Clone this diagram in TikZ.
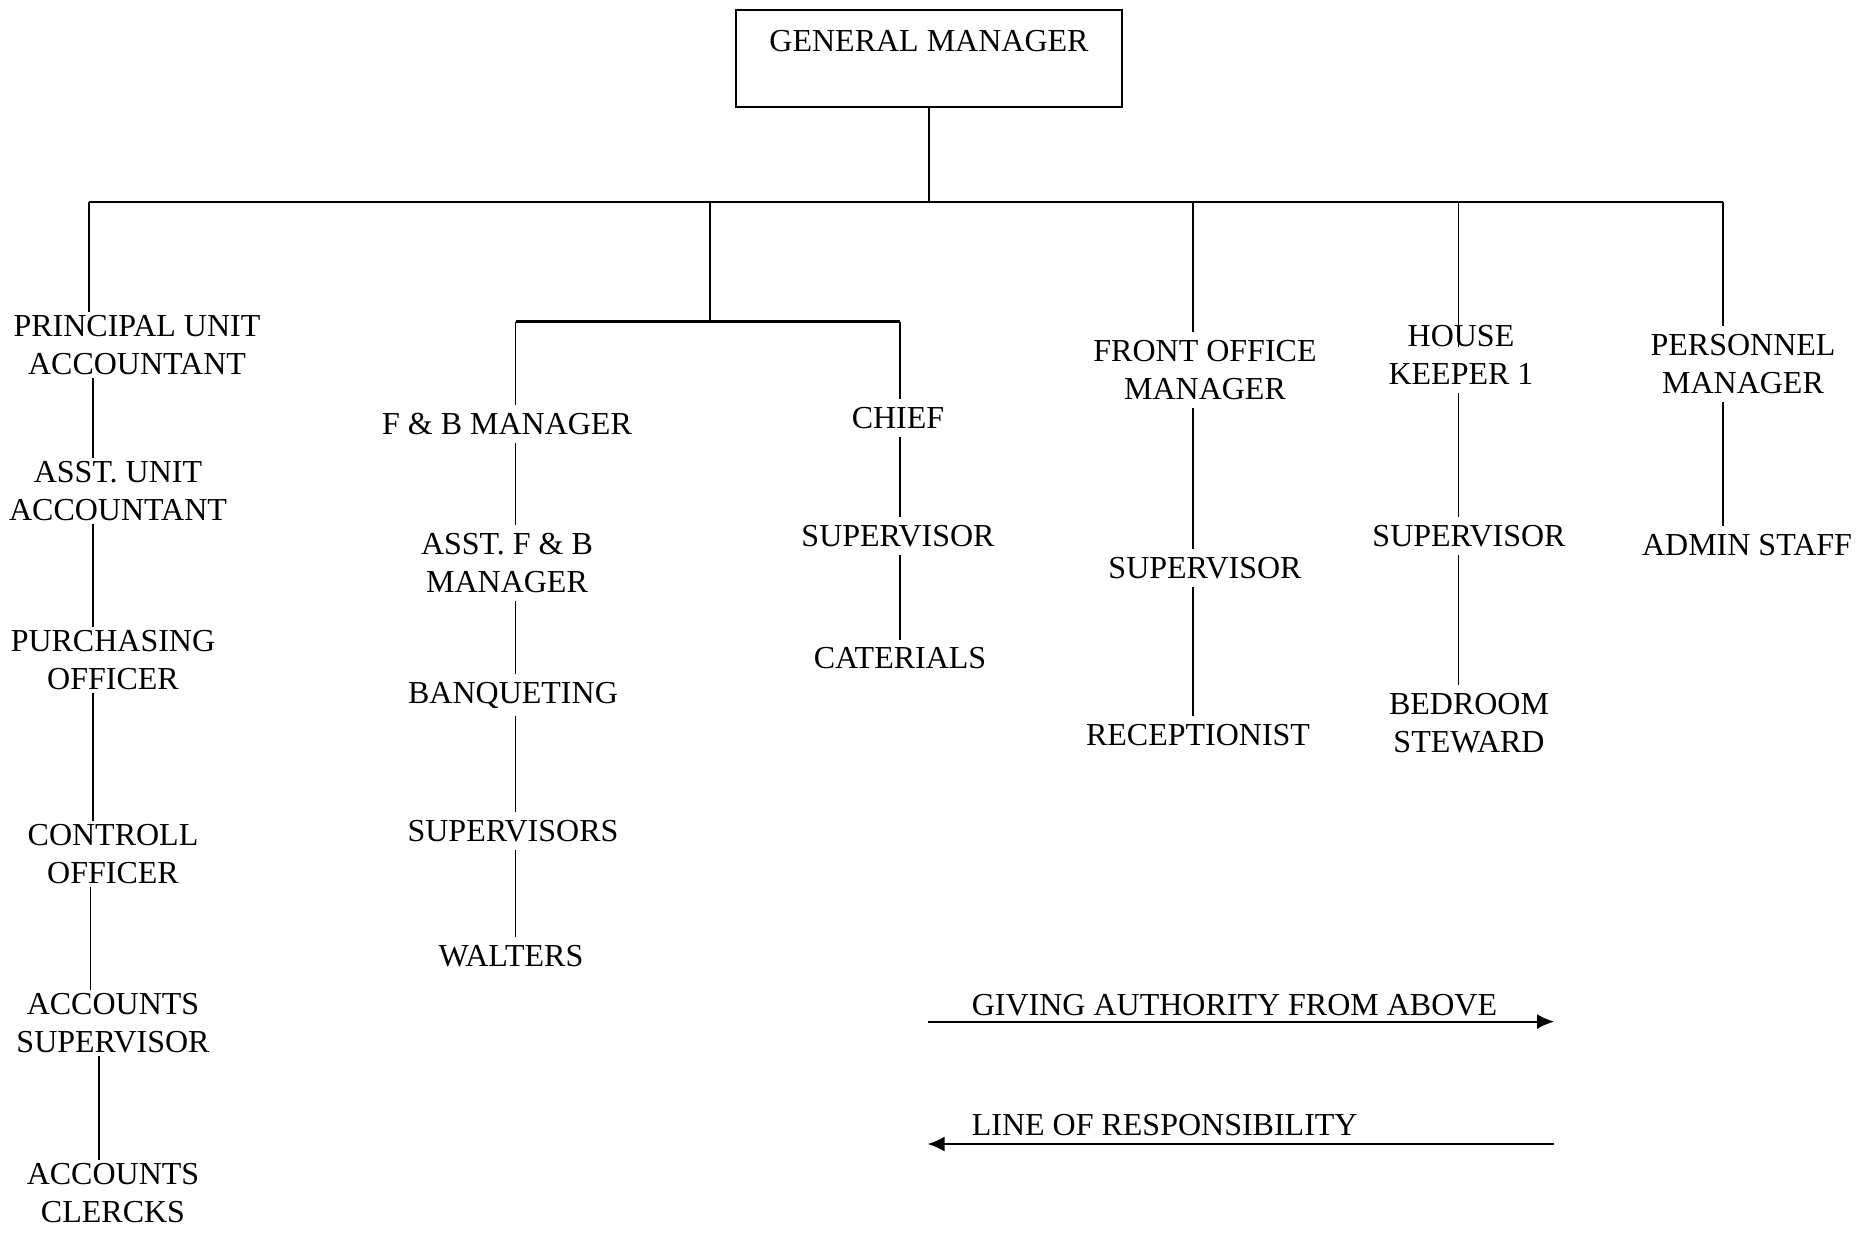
\documentclass[tikz,border=0pt]{standalone}
\usepackage{fontspec}
\setmainfont{Liberation Serif}
\usetikzlibrary{arrows.meta}
\begin{document}
\begin{tikzpicture}[x=1pt,y=-1pt,
  role/.style={font=\fontsize{32}{38}\selectfont, align=center, inner xsep=2pt, inner ysep=8pt},
  tight/.style={inner ysep=3pt},
  link/.style={line width=1.6pt},
  bus/.style={line width=2.5pt},
  legendarrow/.style={line width=1.8pt, -{Latex[length=17pt,width=15pt]}}
]
\useasboundingbox (0,0) rectangle (1867,1236);

% top box
\node (gm) [draw, line width=2pt, anchor=north, minimum width=386pt,
  inner ysep=10pt, text height=31.5pt, text depth=45pt,
  font=\fontsize{32}{38}\selectfont] at (929,9.5) {GENERAL MANAGER};

% accounts column
\node (pua) [role, tight] at (137,345.3) {PRINCIPAL UNIT\\ACCOUNTANT};
\node (aua) [role, tight] at (118,490.6) {ASST. UNIT\\ACCOUNTANT};
\node (po)  [role, tight] at (113,659.6) {PURCHASING\\OFFICER};
\node (co)  [role, tight] at (113,853.7) {CONTROLL\\OFFICER};
\node (as)  [role, tight] at (113,1022.8) {ACCOUNTS\\SUPERVISOR};
\node (ac)  [role, tight] at (113,1193) {ACCOUNTS\\CLERCKS};

% food and beverage column
\node (fbm)  [role] at (507,424) {F \& B MANAGER};
\node (afb)  [role] at (507,563) {ASST. F \& B\\MANAGER};
\node (banq) [role] at (513,695) {BANQUETING};
\node (sups) [role] at (513,831) {SUPERVISORS};
\node (walt) [role] at (511,956) {WALTERS};

% kitchen column
\node (chief) [role] at (898,418) {CHIEF};
\node (sup3)  [role] at (898,536) {SUPERVISOR};
\node (cat)   [role] at (900,658.5) {CATERIALS};

% front office column
\node (fom)  [role] at (1205,370) {FRONT OFFICE\\MANAGER};
\node (sup4) [role] at (1205,568) {SUPERVISOR};
\node (rec)  [role] at (1198,734.7) {RECEPTIONIST};

% housekeeping column
\node (hk)   [role] at (1461,355) {HOUSE\\KEEPER 1};
\node (sup5) [role] at (1469,536) {SUPERVISOR};
\node (bs)   [role] at (1469,723) {BEDROOM\\STEWARD};

% personnel column
\node (pm)  [role] at (1743,363.8) {PERSONNEL\\MANAGER};
\node (adm) [role] at (1747,545) {ADMIN STAFF};

% branch points
\coordinate (top) at (929,202);
\coordinate (b1) at (89,202);
\coordinate (b2) at (710,202);
\coordinate (b3) at (1193,202);
\coordinate (b4) at (1458.6,202);
\coordinate (b5) at (1723,202);
\coordinate (s0) at (710,321.5);
\coordinate (s1) at (515.6,321.5);
\coordinate (s2) at (900,321.5);
\coordinate (hkin) at (1458.6,347);

% vertical line positions
\coordinate (xa) at (93,0);
\coordinate (xb) at (90.5,0);
\coordinate (xc) at (99,0);
\coordinate (xf) at (515.6,0);
\coordinate (xk) at (900,0);
\coordinate (xo) at (1193,0);
\coordinate (xh) at (1458.6,0);
\coordinate (xp) at (1723,0);

% main structure
\draw[link] (gm.south) -- (top);
\draw[bus] (b1) -- (b5);
\draw[link] (b1) -- (pua.north -| b1);
\draw[link] (b2) -- (s0);
\draw[bus] (s1) -- (s2);
\draw[link] (s1) -- (fbm.north -| s1);
\draw[link] (s2) -- (chief.north -| s2);
\draw[link] (b3) -- (fom.north -| b3);
\draw[link] (b4) -- (hkin);
\draw[link] (b5) -- (pm.north -| b5);

% chains of command
\draw[link] (pua.south -| xa) -- (aua.north -| xa);
\draw[link] (aua.south -| xa) -- (po.north -| xa);
\draw[link] (po.south -| xa) -- (co.north -| xa);
\draw[link] (co.south -| xb) -- (as.north -| xb);
\draw[link] (as.south -| xc) -- (ac.north -| xc);

\draw[link] (fbm.south -| xf) -- (afb.north -| xf);
\draw[link] (afb.south -| xf) -- (banq.north -| xf);
\draw[link] (banq.south -| xf) -- (sups.north -| xf);
\draw[link] (sups.south -| xf) -- (walt.north -| xf);

\draw[link] (chief.south -| xk) -- (sup3.north -| xk);
\draw[link] (sup3.south -| xk) -- (cat.north -| xk);

\draw[link] (fom.south -| xo) -- (sup4.north -| xo);
\draw[link] (sup4.south -| xo) -- (rec.north -| xo);

\draw[link] (hk.south -| xh) -- (sup5.north -| xh);
\draw[link] (sup5.south -| xh) -- (bs.north -| xh);

\draw[link] (pm.south -| xp) -- (adm.north -| xp);

% key
\coordinate (ka1) at (927.6,1021.6);
\coordinate (ka2) at (1554,1021.6);
\coordinate (kb1) at (1554,1144);
\coordinate (kb2) at (927.6,1144);
\node (kta) [role, anchor=west, inner sep=0pt] at (971.6,1005) {GIVING AUTHORITY FROM ABOVE};
\node (ktb) [role, anchor=west, inner sep=0pt] at (971.6,1125) {LINE OF RESPONSIBILITY};
\draw[legendarrow] (ka1) -- (ka2);
\draw[legendarrow] (kb1) -- (kb2);
\end{tikzpicture}
\end{document}
